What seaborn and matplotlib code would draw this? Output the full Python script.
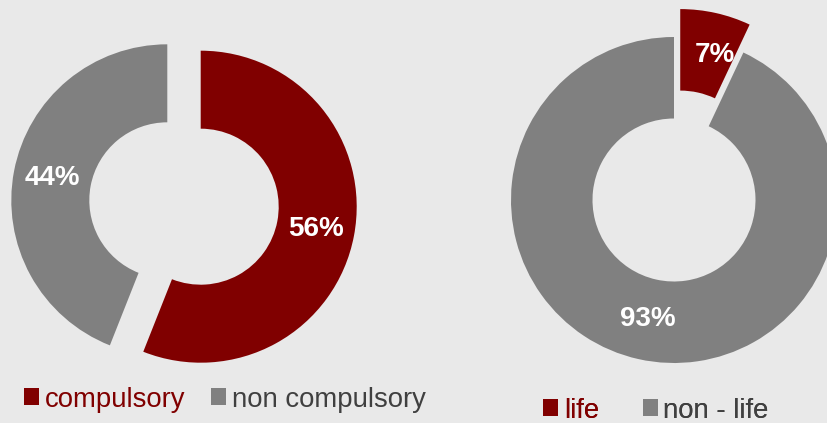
import matplotlib
matplotlib.use("Agg")
import matplotlib.pyplot as plt
import matplotlib.patches as mpatches
import seaborn as sns

# Share of contracts by type
type_labels = ["compulsory", "non compulsory"]
type_values = [56, 44]

# Share of premiums by line of business
line_labels = ["life", "non - life"]
line_values = [7, 93]

RED = "#800000"
GREY = "#808080"
TEXT_GREY = "#404040"
BG = "#e9e9e9"

sns.set_theme(style="white")
plt.rcParams["font.family"] = ["Liberation Sans", "DejaVu Sans"]

W, H = 828, 423
fig = plt.figure(figsize=(W / 100, H / 100), dpi=100, facecolor=BG)
ax = fig.add_axes([0, 0, 1, 1])
ax.set_facecolor(BG)

pct_style = dict(color="white", fontsize=20, fontweight="bold")


def donut(values, center, radius, explode):
    _, _, autotexts = ax.pie(
        values,
        colors=[RED, GREY],
        startangle=90,
        counterclock=False,
        center=center,
        radius=radius,
        explode=explode,
        wedgeprops=dict(width=radius * 0.5, edgecolor="none"),
        autopct=lambda p: f"{p:.0f}%",
        pctdistance=0.75,
        textprops=pct_style,
    )
    return autotexts


# left ring: both segments pulled apart
donut(type_values, center=(184, H - 203.5), radius=156, explode=[17, 17])
# right ring: only the small segment pulled out
right_pcts = donut(line_values, center=(674, H - 200), radius=163,
                   explode=[28.6, 0])
# keep the small label clear of the narrow segment's left edge
x0, y0 = right_pcts[0].get_position()
right_pcts[0].set_position((x0 + 8, y0 - 2))

ax.set_xlim(0, W)
ax.set_ylim(0, H)
ax.set_aspect("equal")
ax.axis("off")


def add_legend(labels, anchor, colspacing):
    handles = [mpatches.Rectangle((0, 0), 1, 1, facecolor=c, edgecolor="none")
               for c in (RED, GREY)]
    leg = ax.legend(
        handles, labels,
        loc="center left",
        bbox_to_anchor=anchor,
        bbox_transform=fig.transFigure,
        ncol=2,
        frameon=False,
        fontsize=19.8,
        handlelength=0.55,
        handleheight=0.55,
        handletextpad=0.2,
        columnspacing=colspacing,
        borderpad=0,
        borderaxespad=0,
    )
    for txt, col in zip(leg.get_texts(), (RED, TEXT_GREY)):
        txt.set_color(col)
    ax.add_artist(leg)
    return leg


add_legend(type_labels, (24 / W, 23.5 / H), 0.95)
add_legend(line_labels, (543 / W, 12.5 / H), 1.6)

fig.savefig("out.png", dpi=100, facecolor=BG)
